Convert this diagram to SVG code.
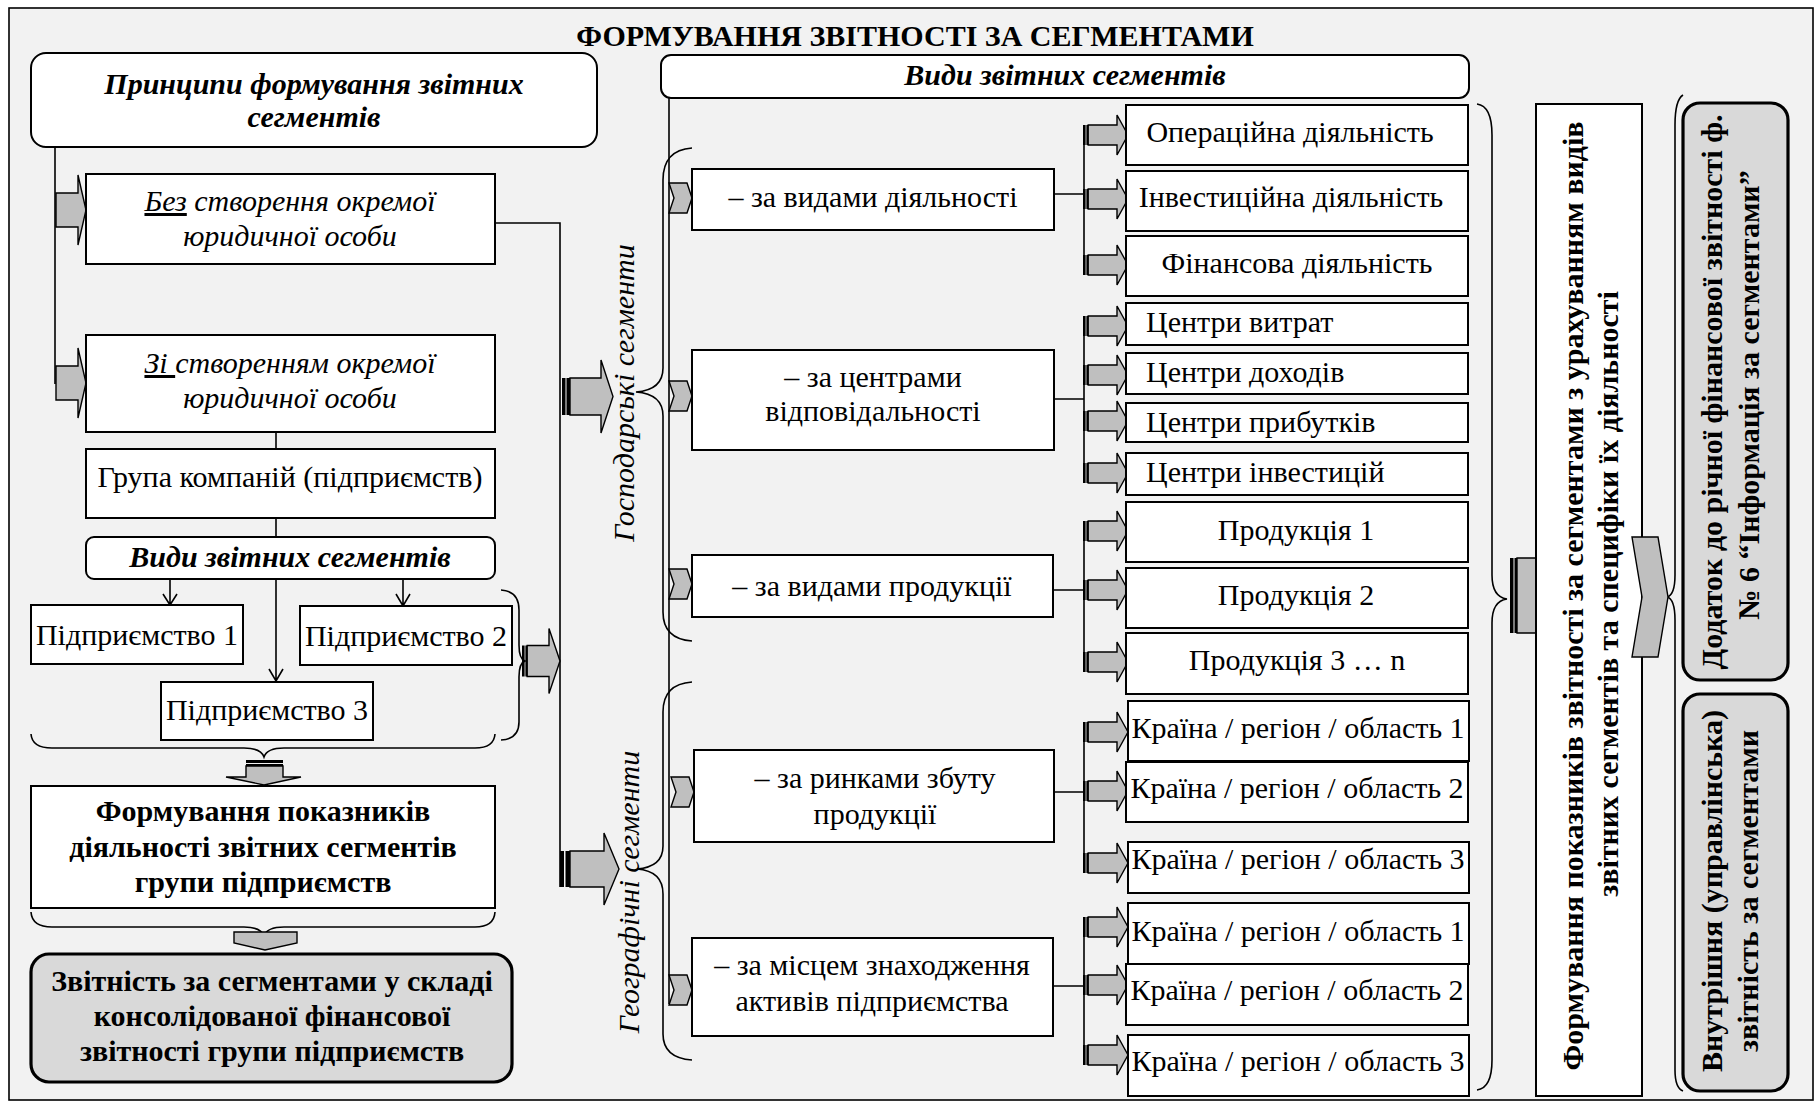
<svg xmlns="http://www.w3.org/2000/svg" xmlns:xlink="http://www.w3.org/1999/xlink" width="1818" height="1104" viewBox="0 0 1818 1104">
<style>
.t{font-family:"Liberation Serif","Times New Roman",serif;font-size:30px;fill:#000}
.b{font-weight:bold}
.i{font-style:italic}
.m{text-anchor:middle}
.box{fill:#fff;stroke:#000;stroke-width:2}
.gbox{fill:#d9d9d9;stroke:#000;stroke-width:3.2}
.ln{fill:none;stroke:#000;stroke-width:1.6}
.br{fill:none;stroke:#000;stroke-width:1.6}
.arr{fill:#bfbfbf;stroke:#000;stroke-width:1.4;stroke-linejoin:miter}
.bar{fill:#000}
</style>
<defs>
<g id="arrA">
<rect class="bar" x="0" y="-10" width="2.6" height="20"/>
<rect class="bar" x="3.4" y="-10" width="1.8" height="20"/>
<path class="arr" d="M5.2,-10 L34,-10 L34,-20 L45,0 L34,20 L34,10 L5.2,10 Z"/>
</g>
<path id="chev" class="arr" d="M0,-15 L18,-15 L23,0 L18,15 L0,15 L5,0 Z"/>
</defs>

<rect id="frame" x="9" y="8" width="1804" height="1092" fill="#f2f2f2" stroke="#000" stroke-width="1.6"/>
<text id="title" class="t b m" x="915" y="46">ФОРМУВАННЯ ЗВІТНОСТІ ЗА СЕГМЕНТАМИ</text>

<g id="connectors">
<path class="ln" d="M55,148 L55,384"/>
<path class="ln" d="M495,223 L560,223 L560,887"/>
<path class="ln" d="M276,432 L276,449"/>
<path class="ln" d="M276,518 L276,537"/>
<path class="ln" d="M170,579 L170,604 M163,594 L170,605 L177,594"/>
<path class="ln" d="M276,579 L276,680 M269,669 L276,681 L283,669"/>
<path class="ln" d="M403,579 L403,605 M396,594 L403,606 L410,594"/>
<path class="ln" d="M669,98 L669,1004"/>
<path class="ln" d="M1054,194 L1084,194 M1084,135 L1084,265"/>
<path class="ln" d="M1054,399 L1084,399 M1084,326 L1084,473"/>
<path class="ln" d="M1053,590 L1084,590 M1084,531 L1084,662"/>
<path class="ln" d="M1054,792 L1084,792 M1084,732 L1084,862"/>
<path class="ln" d="M1053,986 L1084,986 M1084,927 L1084,1055"/>
<!-- braces -->
<path class="br" d="M501,590 Q519,591 519,610 L519,645 Q519,659 525,661 Q519,663 519,677 L519,722 Q519,739 501,740"/>
<path class="br" d="M31,734 Q32,748 52,748 L244,748 Q261,748 264,757 Q267,748 284,748 L475,748 Q494,748 495,734"/>
<path class="br" d="M31,912 Q32,927 52,927 L244,927 Q261,927 264,936 Q267,927 284,927 L475,927 Q494,927 495,912"/>
<path class="br" d="M692,148 Q663,150 663,180 L663,368 Q663,390 636,392 Q663,394 663,416 L663,612 Q663,639 692,641"/>
<path class="br" d="M692,682 Q663,684 663,712 L663,846 Q663,867 637,869 Q663,871 663,894 L663,1034 Q663,1058 692,1060"/>
<path class="br" d="M1477,104 Q1492,106 1492,135 L1492,575 Q1492,597 1507,599 Q1492,601 1492,623 L1492,1060 Q1492,1088 1477,1090"/>
<path class="br" d="M1683,95 Q1675,100 1675,125 L1675,575 Q1675,595 1667,597 Q1675,599 1675,620 L1675,1070 Q1675,1088 1683,1091"/>
<!-- block arrows -->
<path class="arr" d="M56,193 L78,193 L78,175 L86,210 L78,245 L78,227 L56,227 Z"/>
<path class="arr" d="M56,366 L78,366 L78,348 L86,383 L78,418 L78,400 L56,400 Z"/>
<rect class="bar" x="522" y="645.5" width="2.6" height="31"/><rect class="bar" x="525.4" y="645.5" width="1.8" height="31"/>
<path class="arr" d="M527.2,645.5 L549,645.5 L549,628.5 L560,661 L549,693.5 L549,676.5 L527.2,676.5 Z"/>
<rect class="bar" x="562" y="378" width="3.5" height="37"/><rect class="bar" x="566.5" y="378" width="3.5" height="37"/>
<path class="arr" d="M570,378 L601,378 L601,360 L613,396.5 L601,433 L601,415 L570,415 Z"/>
<rect class="bar" x="560" y="851" width="4" height="36"/><rect class="bar" x="565.5" y="851" width="4.5" height="36"/>
<path class="arr" d="M570,851 L604,851 L604,833 L619,869 L604,905 L604,887 L570,887 Z"/>
<rect class="bar" x="246" y="760" width="37" height="3"/><rect class="bar" x="246" y="764" width="37" height="2"/>
<path class="arr" d="M246,766 L246,777 L226,777 L264,785 L301,777 L283,777 L283,766 Z"/>
<path class="arr" d="M234,932 L297,932 L297,943 L265,950 L234,943 Z"/>
<rect class="bar" x="1510" y="558" width="3.5" height="75"/><rect class="bar" x="1514.5" y="558" width="2.5" height="75"/>
<path class="arr" d="M1517,558 L1538,558 L1538,520 L1548,595.5 L1538,671 L1538,633 L1517,633 Z"/>
<!-- chevrons -->
<use xlink:href="#chev" x="669" y="198"/>
<use xlink:href="#chev" x="669" y="396"/>
<use xlink:href="#chev" x="669" y="584"/>
<use xlink:href="#chev" x="671" y="792"/>
<use xlink:href="#chev" x="669" y="990"/>
<!-- right arrows -->
<use xlink:href="#arrA" x="1083" y="135"/>
<use xlink:href="#arrA" x="1083" y="199"/>
<use xlink:href="#arrA" x="1083" y="265"/>
<use xlink:href="#arrA" x="1083" y="326"/>
<use xlink:href="#arrA" x="1083" y="375"/>
<use xlink:href="#arrA" x="1083" y="421"/>
<use xlink:href="#arrA" x="1083" y="473"/>
<use xlink:href="#arrA" x="1083" y="531"/>
<use xlink:href="#arrA" x="1083" y="590"/>
<use xlink:href="#arrA" x="1083" y="662"/>
<use xlink:href="#arrA" x="1083" y="732"/>
<use xlink:href="#arrA" x="1083" y="791"/>
<use xlink:href="#arrA" x="1083" y="863"/>
<use xlink:href="#arrA" x="1083" y="927"/>
<use xlink:href="#arrA" x="1083" y="985"/>
<use xlink:href="#arrA" x="1083" y="1055"/>
</g>

<g id="n-principles">
<rect class="box" x="31" y="53" width="566" height="94" rx="15"/>
<text class="t b i m" x="314" y="94">Принципи формування звітних</text>
<text class="t b i m" x="314" y="127">сегментів</text>
</g>
<g id="n-without">
<rect class="box" x="86" y="174" width="409" height="90"/>
<text class="t i m" x="290" y="211"><tspan text-decoration="underline">Без</tspan> створення окремої</text>
<text class="t i m" x="290" y="246">юридичної особи</text>
</g>
<g id="n-with">
<rect class="box" x="86" y="335" width="409" height="97"/>
<text class="t i m" x="290" y="373"><tspan text-decoration="underline">Зі </tspan>створенням окремої</text>
<text class="t i m" x="290" y="408">юридичної особи</text>
</g>
<g id="n-group">
<rect class="box" x="86" y="449" width="409" height="69"/>
<text class="t m" x="290" y="487">Група компаній (підприємств)</text>
</g>
<g id="n-types-left">
<rect class="box" x="86" y="537" width="409" height="42" rx="8"/>
<text class="t b i m" x="290" y="567">Види звітних сегментів</text>
</g>
<g id="n-ent1">
<rect class="box" x="31" y="605" width="212" height="59"/>
<text class="t m" x="137" y="645">Підприємство 1</text>
</g>
<g id="n-ent2">
<rect class="box" x="300" y="606" width="212" height="59"/>
<text class="t m" x="406" y="646">Підприємство 2</text>
</g>
<g id="n-ent3">
<rect class="box" x="161" y="682" width="212" height="58"/>
<text class="t m" x="267" y="720">Підприємство 3</text>
</g>
<g id="n-forming">
<rect class="box" x="31" y="786" width="464" height="122"/>
<text class="t b m" x="263" y="821">Формування показників</text>
<text class="t b m" x="263" y="857">діяльності звітних сегментів</text>
<text class="t b m" x="263" y="892">групи підприємств</text>
</g>
<g id="n-consolidated">
<rect class="gbox" x="31" y="954" width="481" height="128" rx="18"/>
<text class="t b m" x="272" y="991">Звітність за сегментами у складі</text>
<text class="t b m" x="272" y="1026">консолідованої фінансової</text>
<text class="t b m" x="272" y="1061">звітності групи підприємств</text>
</g>

<g id="n-types-top">
<rect class="box" x="661" y="55" width="808" height="43" rx="10"/>
<text class="t b i m" x="1065" y="85">Види звітних сегментів</text>
</g>
<g id="l-business">
<text class="t i m" transform="translate(634,393) rotate(-90)">Господарські сегменти</text>
</g>
<g id="l-geo">
<text class="t i m" transform="translate(639,892) rotate(-90)">Географічні сегменти</text>
</g>

<g id="n-activity">
<rect class="box" x="692" y="169" width="362" height="61"/>
<text class="t m" x="873" y="207">– за видами діяльності</text>
</g>
<g id="n-centers">
<rect class="box" x="692" y="350" width="362" height="100"/>
<text class="t m" x="873" y="387">– за центрами</text>
<text class="t m" x="873" y="421">відповідальності</text>
</g>
<g id="n-products">
<rect class="box" x="692" y="555" width="361" height="62"/>
<text class="t m" x="872" y="596">– за видами продукції</text>
</g>
<g id="n-markets">
<rect class="box" x="694" y="750" width="360" height="92"/>
<text class="t m" x="875" y="788">– за ринками збуту</text>
<text class="t m" x="875" y="824">продукції</text>
</g>
<g id="n-assets">
<rect class="box" x="692" y="938" width="361" height="98"/>
<text class="t m" x="872" y="975">– за місцем знаходження</text>
<text class="t m" x="872" y="1011">активів підприємства</text>
</g>

<g id="n-op"><rect class="box" x="1126" y="105" width="342" height="60"/><text class="t m" x="1290" y="142">Операційна діяльність</text></g>
<g id="n-inv"><rect class="box" x="1126" y="171" width="342" height="60"/><text class="t m" x="1291" y="207">Інвестиційна діяльність</text></g>
<g id="n-fin"><rect class="box" x="1126" y="236" width="342" height="60"/><text class="t m" x="1297" y="273">Фінансова діяльність</text></g>
<g id="n-c1"><rect class="box" x="1126" y="303" width="342" height="42"/><text class="t" x="1146" y="332">Центри витрат</text></g>
<g id="n-c2"><rect class="box" x="1126" y="353" width="342" height="41"/><text class="t" x="1146" y="382">Центри доходів</text></g>
<g id="n-c3"><rect class="box" x="1126" y="403" width="342" height="39"/><text class="t" x="1146" y="432">Центри прибутків</text></g>
<g id="n-c4"><rect class="box" x="1126" y="453" width="342" height="42"/><text class="t" x="1146" y="482">Центри інвестицій</text></g>
<g id="n-p1"><rect class="box" x="1126" y="502" width="342" height="60"/><text class="t m" x="1296" y="540">Продукція 1</text></g>
<g id="n-p2"><rect class="box" x="1126" y="568" width="342" height="60"/><text class="t m" x="1296" y="605">Продукція 2</text></g>
<g id="n-p3"><rect class="box" x="1126" y="633" width="342" height="61"/><text class="t m" x="1297" y="670">Продукція 3 … n</text></g>
<g id="n-m1"><rect class="box" x="1128" y="701" width="341" height="60"/><text class="t m" x="1298" y="738">Країна / регіон / область 1</text></g>
<g id="n-m2"><rect class="box" x="1126" y="762" width="342" height="60"/><text class="t m" x="1297" y="798">Країна / регіон / область 2</text></g>
<g id="n-m3"><rect class="box" x="1128" y="842" width="341" height="51"/><text class="t m" x="1298" y="869">Країна / регіон / область 3</text></g>
<g id="n-a1"><rect class="box" x="1128" y="903" width="341" height="61"/><text class="t m" x="1298" y="941">Країна / регіон / область 1</text></g>
<g id="n-a2"><rect class="box" x="1126" y="964" width="342" height="61"/><text class="t m" x="1297" y="1000">Країна / регіон / область 2</text></g>
<g id="n-a3"><rect class="box" x="1128" y="1035" width="341" height="61"/><text class="t m" x="1298" y="1071">Країна / регіон / область 3</text></g>

<g id="n-forming-right">
<rect class="box" x="1536" y="104" width="106" height="992"/>
<text class="t b m" transform="translate(1583,596) rotate(-90)">Формування показників звітності за сегментами з урахуванням видів</text>
<text class="t b m" transform="translate(1618,594) rotate(-90)">звітних сегментів та специфіки їх діяльності</text>
</g>
<g id="chevron-right">
<path class="arr" d="M1632,537 L1658,537 L1668,597 L1658,657 L1632,657 L1642,597 Z"/>
</g>
<g id="n-annex">
<rect class="gbox" x="1683" y="103" width="105" height="577" rx="17"/>
<text class="t b m" transform="translate(1722,392) rotate(-90)">Додаток до річної фінансової звітності ф.</text>
<text class="t b m" transform="translate(1759,395) rotate(-90)">№ 6 “Інформація за сегментами”</text>
</g>
<g id="n-internal">
<rect class="gbox" x="1683" y="694" width="105" height="397" rx="17"/>
<text class="t b m" transform="translate(1722,891) rotate(-90)">Внутрішня (управлінська)</text>
<text class="t b m" transform="translate(1758,891) rotate(-90)">звітність за сегментами</text>
</g>
</svg>
